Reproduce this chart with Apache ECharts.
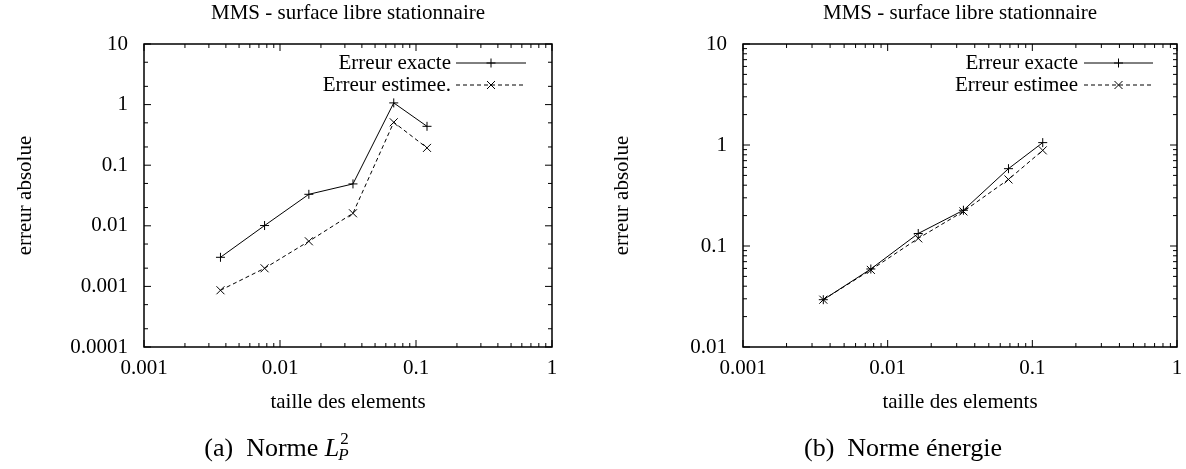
<!DOCTYPE html>
<html>
<head>
<meta charset="utf-8">
<script src="https://cdn.jsdelivr.net/npm/echarts@6/dist/echarts.min.js"></script>
<style>
  html, body { margin: 0; padding: 0; background: #fff; }
  #chart { width: 1186px; height: 469px; }
</style>
</head>
<body>
<div id="chart"></div>
<script>
// ---- texts ----
const titleText = 'MMS - surface libre stationnaire';
const xAxisName = 'taille des elements';
const yAxisName = 'erreur absolue';
const legendExacte = 'Erreur exacte';
const legendEstimeeL2 = 'Erreur estimee.';
const legendEstimeeEnergie = 'Erreur estimee';

// ---- (a) L2 norm ----
const tailleL2 = [0.00365, 0.0077, 0.0163, 0.0344, 0.0686, 0.1205];
const exacteL2 = [0.00302, 0.0101, 0.0331, 0.0491, 1.067, 0.438];
const estimeeL2 = [0.000863, 0.00199, 0.00555, 0.0161, 0.511, 0.193];

// ---- (b) energy norm ----
const tailleEnergie = [0.00359, 0.00765, 0.01627, 0.0334, 0.0684, 0.118];
const exacteEnergie = [0.0294, 0.0592, 0.133, 0.226, 0.583, 1.056];
const estimeeEnergie = [0.0294, 0.058, 0.119, 0.22, 0.456, 0.885];

// ---- tick decades and minor tick factors ----
const xDecades = [0.001, 0.01, 0.1, 1];
const yDecadesL2 = [0.0001, 0.001, 0.01, 0.1, 1, 10];
const yDecadesEnergie = [0.01, 0.1, 1, 10];
const xMinorFactors = [2, 3, 4, 5, 6, 7, 8, 9];
const yMinorFactorsL2 = [2, 5];
const yMinorFactorsEnergie = [2, 3, 4, 5, 6, 7, 8, 9];

const SERIF = '"Liberation Serif", "Times New Roman", serif';
const FS = 21;
const MAJOR = 7, MINOR = 4;

const chart = echarts.init(document.getElementById('chart'), null, { renderer: 'canvas' });

const grids = [
  { left: 144, top: 44, width: 408, height: 303 },
  { left: 743, top: 44, width: 434, height: 303 }
];

function fmt(v) { return String(parseFloat(Number(v).toPrecision(6))); }

function tickData(decades, factors, kind) {
  const out = [];
  decades.forEach(function (d, i) {
    out.push([d, kind, MAJOR]);
    if (i < decades.length - 1) {
      factors.forEach(function (f) { out.push([parseFloat((d * f).toPrecision(6)), kind, MINOR]); });
    }
  });
  return out;
}

// inward ticks on all four sides, placed through the axis scales
function tickSeries(gi, xd, yd, yFactors) {
  const xMin = xd[0], xMax = xd[xd.length - 1];
  const yMin = yd[0], yMax = yd[yd.length - 1];
  const data = tickData(xd, xMinorFactors, 1).concat(tickData(yd, yFactors, 2)).map(function (t) {
    // kind 1: x tick (value in dim 0); kind 2: y tick (value in dim 4)
    return t[1] === 1 ? [t[0], yMin, 1, t[2], yMin] : [xMin, t[0], 2, t[2], t[0]];
  });
  return {
    type: 'custom',
    xAxisIndex: gi, yAxisIndex: gi,
    silent: true,
    z: 5,
    clip: false,
    data: data,
    renderItem: function (params, api) {
      const kind = api.value(2), len = api.value(3);
      const st = { stroke: '#000', lineWidth: 1 };
      const ch = [];
      if (kind === 1) {
        const v = api.value(0);
        const b = api.coord([v, yMin]), t = api.coord([v, yMax]);
        ch.push({ type: 'line', shape: { x1: b[0], y1: b[1], x2: b[0], y2: b[1] - len }, style: st });
        ch.push({ type: 'line', shape: { x1: t[0], y1: t[1], x2: t[0], y2: t[1] + len }, style: st });
      } else {
        const v = api.value(4);
        const l = api.coord([xMin, v]), r = api.coord([xMax, v]);
        ch.push({ type: 'line', shape: { x1: l[0], y1: l[1], x2: l[0] + len, y2: l[1] }, style: st });
        ch.push({ type: 'line', shape: { x1: r[0], y1: r[1], x2: r[0] - len, y2: r[1] }, style: st });
      }
      return { type: 'group', children: ch };
    }
  };
}

const plusSymbol = 'path://M5,0L5,10M0,5L10,5';
const crossSymbol = 'path://M0,0L10,10M10,0L0,10';

function pairs(xs, ys) { return xs.map(function (x, i) { return [x, ys[i]]; }); }

function lineSeries(gi, name, xs, ys, dashed) {
  return {
    type: 'line', name: name,
    xAxisIndex: gi, yAxisIndex: gi,
    data: pairs(xs, ys),
    symbol: dashed ? crossSymbol : plusSymbol,
    symbolSize: dashed ? 8 : 9,
    showSymbol: true,
    animation: false,
    z: 4,
    lineStyle: { color: '#000', width: 1, type: dashed ? [4, 3] : 'solid' },
    itemStyle: { color: '#000', borderColor: '#000', borderWidth: 1 }
  };
}

function xAxisDef(gi) {
  return {
    type: 'log', logBase: 10, gridIndex: gi,
    min: 0.001, max: 1, splitNumber: 3,
    axisLine: { show: false }, axisTick: { show: false },
    splitLine: { show: false }, minorTick: { show: false },
    axisLabel: { color: '#000', fontFamily: SERIF, fontSize: FS, margin: 11,
      showMinLabel: true, showMaxLabel: true, formatter: fmt },
    name: xAxisName, nameLocation: 'middle', nameGap: 45,
    nameTextStyle: { color: '#000', fontFamily: SERIF, fontSize: FS }
  };
}

function yAxisDef(gi, min, max, nameGap) {
  return {
    type: 'log', logBase: 10, gridIndex: gi,
    min: min, max: max, splitNumber: Math.round(Math.log10(max / min)),
    axisLine: { show: false }, axisTick: { show: false },
    splitLine: { show: false }, minorTick: { show: false },
    axisLabel: { color: '#000', fontFamily: SERIF, fontSize: FS, margin: 16,
      showMinLabel: true, showMaxLabel: true, formatter: fmt },
    name: yAxisName, nameLocation: 'middle', nameGap: nameGap, nameRotate: 90,
    nameTextStyle: { color: '#000', fontFamily: SERIF, fontSize: FS }
  };
}

// gnuplot-style key: right-aligned label followed by a line sample and its marker
function keyRow(textRight, y, label, x1, x2, marker, dashed) {
  const st = { stroke: '#000', lineWidth: 1, lineDash: dashed ? [4, 3] : null };
  const mx = (x1 + x2) / 2;
  const h = dashed ? 4 : 4.5;
  const els = [
    { type: 'text', x: textRight, y: y, style: { text: label, align: 'right', verticalAlign: 'middle',
      font: FS + 'px ' + SERIF, fill: '#000' } },
    { type: 'line', shape: { x1: x1, y1: y, x2: x2, y2: y }, style: st }
  ];
  if (marker === 'plus') {
    els.push({ type: 'line', shape: { x1: mx, y1: y - h, x2: mx, y2: y + h }, style: { stroke: '#000', lineWidth: 1 } });
    els.push({ type: 'line', shape: { x1: mx - h, y1: y, x2: mx + h, y2: y }, style: { stroke: '#000', lineWidth: 1 } });
  } else {
    els.push({ type: 'line', shape: { x1: mx - h, y1: y - h, x2: mx + h, y2: y + h }, style: { stroke: '#000', lineWidth: 1 } });
    els.push({ type: 'line', shape: { x1: mx + h, y1: y - h, x2: mx - h, y2: y + h }, style: { stroke: '#000', lineWidth: 1 } });
  }
  return els;
}

// sub-figure captions
const measureCtx = document.createElement('canvas').getContext('2d');
function textWidth(str, font) { measureCtx.font = font; return measureCtx.measureText(str).width; }

const CAP_FS = 26, CAP_SMALL = 17;
const capFont = CAP_FS + 'px ' + SERIF;
const capItalic = 'italic ' + CAP_FS + 'px ' + SERIF;
const capSmall = CAP_SMALL + 'px ' + SERIF;
const capSmallItalic = 'italic ' + CAP_SMALL + 'px ' + SERIF;
const capY = 449;

const capA1 = '(a)\u2002Norme ';
const wA1 = textWidth(capA1, capFont);
const wL = textWidth('L', capItalic);
const wSup = Math.max(textWidth('2', capSmall), textWidth('P', capSmallItalic));
const capAStart = 278 - (wA1 + wL + wSup + 2) / 2;

const graphics = []
  .concat(keyRow(451, 63, legendExacte, 456, 526, 'plus', false))
  .concat(keyRow(451, 85, legendEstimeeL2, 456, 526, 'cross', true))
  .concat(keyRow(1078, 63, legendExacte, 1084, 1153, 'plus', false))
  .concat(keyRow(1078, 85, legendEstimeeEnergie, 1084, 1153, 'cross', true))
  .concat([
    { type: 'text', x: capAStart, y: capY, style: { text: capA1, font: capFont, fill: '#000', align: 'left', verticalAlign: 'middle' } },
    { type: 'text', x: capAStart + wA1, y: capY, style: { text: 'L', font: capItalic, fill: '#000', align: 'left', verticalAlign: 'middle' } },
    { type: 'text', x: capAStart + wA1 + wL + 1, y: capY - 9, style: { text: '2', font: capSmall, fill: '#000', align: 'left', verticalAlign: 'middle' } },
    { type: 'text', x: capAStart + wA1 + wL - 1, y: capY + 7, style: { text: 'P', font: capSmallItalic, fill: '#000', align: 'left', verticalAlign: 'middle' } },
    { type: 'text', x: 903, y: capY, style: { text: '(b)\u2002Norme énergie', font: capFont, fill: '#000', align: 'center', verticalAlign: 'middle' } }
  ]);

const option = {
  animation: false,
  backgroundColor: '#fff',
  title: [
    { text: titleText, left: 348, top: 3, textAlign: 'center', padding: 0,
      textStyle: { color: '#000', fontFamily: SERIF, fontSize: FS, fontWeight: 'normal' } },
    { text: titleText, left: 960, top: 3, textAlign: 'center', padding: 0,
      textStyle: { color: '#000', fontFamily: SERIF, fontSize: FS, fontWeight: 'normal' } }
  ],
  grid: grids.map(function (g) {
    return Object.assign({ show: true, borderColor: '#000', borderWidth: 1.5, backgroundColor: 'transparent', containLabel: false }, g);
  }),
  xAxis: [xAxisDef(0), xAxisDef(1)],
  yAxis: [yAxisDef(0, 0.0001, 10, 108), yAxisDef(1, 0.01, 10, 110)],
  series: [
    lineSeries(0, legendExacte, tailleL2, exacteL2, false),
    lineSeries(0, legendEstimeeL2, tailleL2, estimeeL2, true),
    lineSeries(1, legendExacte, tailleEnergie, exacteEnergie, false),
    lineSeries(1, legendEstimeeEnergie, tailleEnergie, estimeeEnergie, true),
    tickSeries(0, xDecades, yDecadesL2, yMinorFactorsL2),
    tickSeries(1, xDecades, yDecadesEnergie, yMinorFactorsEnergie)
  ],
  graphic: graphics
};

chart.setOption(option);
</script>
</body>
</html>
